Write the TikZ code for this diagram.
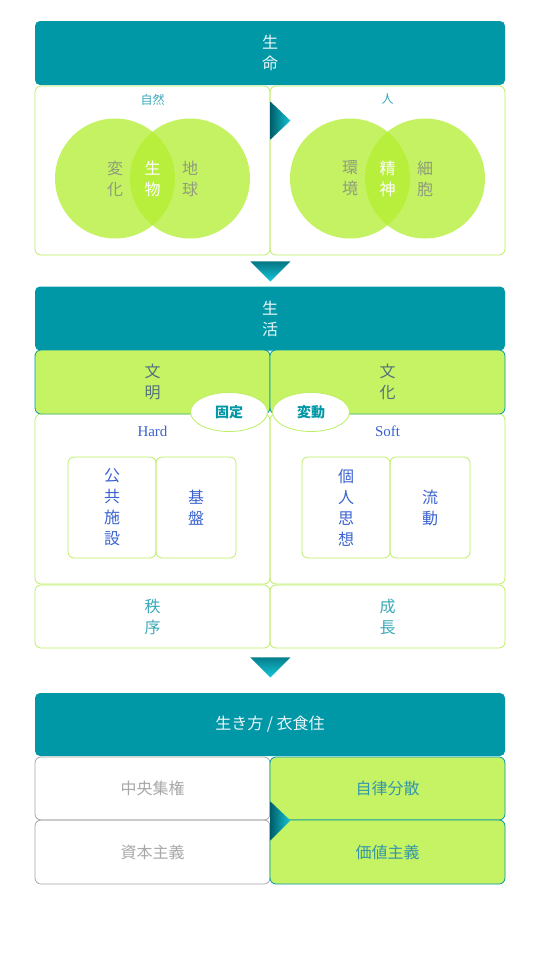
\documentclass[tikz,border=0pt]{standalone}
\usepackage{fontspec}
\usetikzlibrary{positioning, calc, shapes.geometric}
\newfontfamily\jp{Noto Sans CJK JP}
\newfontfamily\lat{Liberation Serif}
\definecolor{sea}{HTML}{0097A7}
\definecolor{seadark}{HTML}{005E6B}
\definecolor{seabright}{HTML}{14C6D8}
\definecolor{lime}{HTML}{C6F364}
\definecolor{limeline}{HTML}{BDEE63}
\definecolor{limedisc}{HTML}{B2EE2F}
\definecolor{greytext}{HTML}{8E9C7C}
\definecolor{bluetext}{HTML}{3A63D0}
\definecolor{seatext}{HTML}{3AA8B8}
\definecolor{civtext}{HTML}{55727A}
\definecolor{mutetext}{HTML}{A8A8A8}
\definecolor{greyline}{HTML}{A5A5A5}

\begin{document}
\begin{tikzpicture}[x=1pt, y=-1pt]
\tikzset{Head/.style={shape=rectangle, fill=sea, rounded corners=5pt, minimum width=470pt, minimum height=64pt, text=white!92!sea, align=center, font=\jp\fontsize{16}{21}\selectfont}}
\tikzset{Panel/.style={shape=rectangle, draw=limeline, line width=0.8pt, rounded corners=6pt, minimum width=235pt, minimum height=63pt, align=center, font=\jp\fontsize{16}{21}\selectfont}}
\tikzset{Lime/.style={Panel, fill=lime, draw=sea}}
\tikzset{Plain/.style={Panel, draw=greyline, text=mutetext}}
\tikzset{Cell/.style={Panel, minimum height=101pt, text=bluetext}}
\tikzset{Disc/.style={shape=circle, fill=limedisc, fill opacity=.75, minimum size=120pt}}
\tikzset{Word/.style={align=center, text=greytext, font=\jp\fontsize{16}{21}\selectfont}}
\tikzset{Tag/.style={text=seatext, font=\jp\fontsize{12}{14}\selectfont}}
\tikzset{Oval/.style={shape=ellipse, draw=limeline, line width=0.8pt, fill=white, minimum width=77pt, minimum height=39pt, inner sep=0pt, text=sea, font=\jp\bfseries\fontsize{14}{16}\selectfont}}

\useasboundingbox (0,0) rectangle (540,959);

% life
\node[Head] (life) at (270,53) {生\\命};
\node[Panel, minimum height=169pt] (nature) at (152.5,170.5) {};
\node[Panel, minimum height=169pt] (human) at (387.5,170.5) {};
\node[Tag, below=5pt of nature.north] (natureTag) {自然};
\node[Tag, below=5pt of human.north] (humanTag) {人};

\node[Disc] (change) at (115,178.5) {};
\node[Disc] (earth) at (190,178.5) {};
\node[Disc] (habitat) at (350,178.5) {};
\node[Disc] (cell) at (425,178.5) {};
\node[Word] (changeTxt) at (change) {変\\化};
\node[Word] (earthTxt) at (earth) {地\\球};
\node[Word, text=white] (beingTxt) at (152.5,178.5) {生\\物};
\node[Word] (habitatTxt) at (habitat) {環\\境};
\node[Word] (cellTxt) at (cell) {細\\胞};
\node[Word, text=white] (mindTxt) at (387.5,178.5) {精\\神};

% living
\node[Head] (living) at (270,318.5) {生\\活};
\node[Lime, minimum height=64pt, text=civtext] (civ) at (152.5,382) {文\\明};
\node[Lime, minimum height=64pt, text=civtext] (cult) at (387.5,382) {文\\化};
\node[Panel, minimum height=170pt] (hard) at (152.5,499) {};
\node[Panel, minimum height=170pt] (soft) at (387.5,499) {};
\node[Tag, text=bluetext, font=\lat\fontsize{15}{17}\selectfont, below=9pt of hard.north] (hardTag) {Hard};
\node[Tag, text=bluetext, font=\lat\fontsize{15}{17}\selectfont, below=9pt of soft.north] (softTag) {Soft};
\node[Cell, minimum width=88pt] (public) at (112,507.5) {公\\共\\施\\設};
\node[Cell, minimum width=80pt] (base) at (196,507.5) {基\\盤};
\node[Cell, minimum width=88pt] (thought) at (346,507.5) {個\\人\\思\\想};
\node[Cell, minimum width=80pt] (flow) at (430,507.5) {流\\動};
\node[Oval] (fixed) at (229,412) {固定};
\node[Oval] (moving) at (311,412) {変動};
\node[Panel, text=seatext] (order) at (152.5,616.5) {秩\\序};
\node[Panel, text=seatext] (growth) at (387.5,616.5) {成\\長};

% way of life
\node[Head, minimum height=63pt] (way) at (270,724.5) {生き方 / 衣食住};
\node[Plain] (central) at (152.5,788.5) {中央集権};
\node[Plain, minimum height=64pt] (capital) at (152.5,852) {資本主義};
\node[Lime, text=seatext!90!black] (spread) at (387.5,788.5) {自律分散};
\node[Lime, minimum height=64pt, text=seatext!90!black] (value) at (387.5,852) {価値主義};

% arrows
\shade[left color=seadark, right color=seabright] (nature.north east) ++(0,16) -- ++(20,19) -- ++(-20,19) -- cycle;
\shade[top color=seadark, bottom color=seabright] (nature.south east) ++(-20,6) -- ++(40,0) -- ++(-20,20) -- cycle;
\shade[top color=seadark, bottom color=seabright] (order.south east) ++(-20,9) -- ++(40,0) -- ++(-20,20) -- cycle;
\shade[left color=seadark, right color=seabright] (central.east) ++(0,13) -- ++(20,19) -- ++(-20,20) -- cycle;
\end{tikzpicture}
\end{document}
